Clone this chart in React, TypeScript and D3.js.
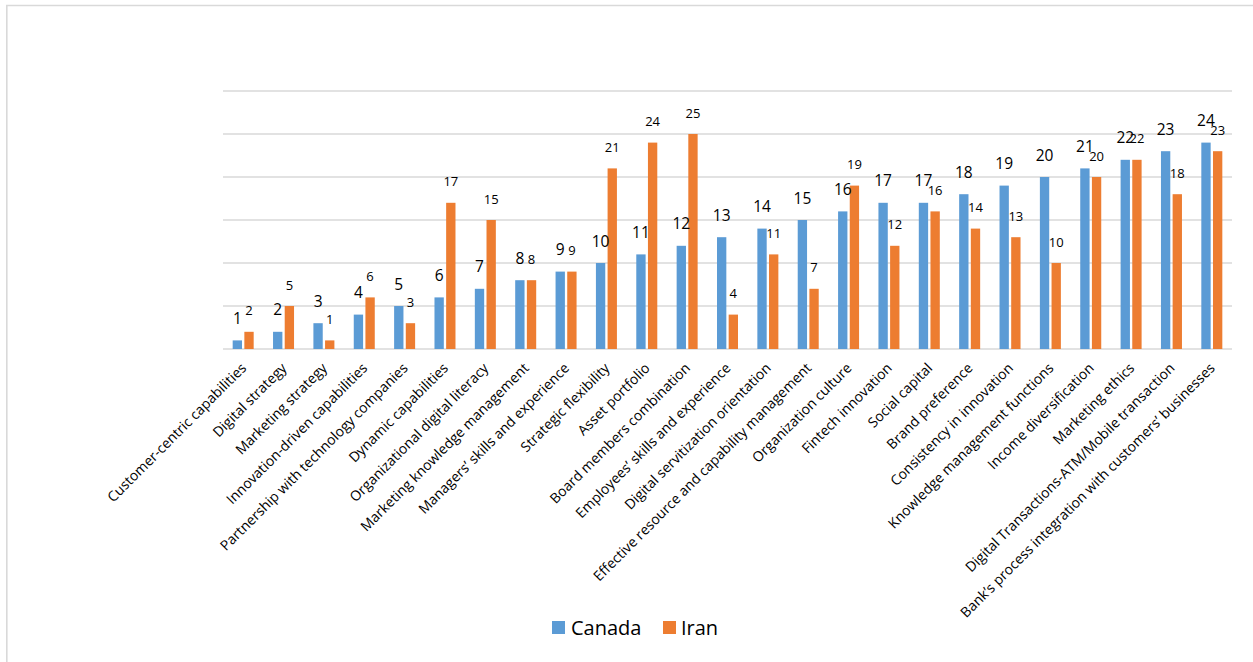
import React from "react";
import * as d3 from "d3";

// Ranking of digital-transformation factors in two countries
const categories: string[] = [
  "Customer-centric capabilities",
  "Digital strategy",
  "Marketing strategy",
  "Innovation-driven capabilities",
  "Partnership with technology companies",
  "Dynamic capabilities",
  "Organizational digital literacy",
  "Marketing knowledge management",
  "Managers’ skills and experience",
  "Strategic flexibility",
  "Asset portfolio",
  "Board members combination",
  "Employees’ skills and experience",
  "Digital servitization orientation",
  "Effective resource and capability management",
  "Organization culture",
  "Fintech innovation",
  "Social capital",
  "Brand preference",
  "Consistency in innovation",
  "Knowledge management functions",
  "Income diversification",
  "Marketing ethics",
  "Digital Transactions-ATM/Mobile transaction",
  "Bank’s process integration with customers’ businesses",
];

const canadaValues: number[] = [
  1, 2, 3, 4, 5, 6, 7, 8, 9, 10, 11, 12, 13, 14, 15, 16, 17, 17, 18, 19, 20, 21, 22, 23, 24,
];

const iranValues: number[] = [
  2, 5, 1, 6, 3, 17, 15, 8, 9, 21, 24, 25, 4, 11, 7, 19, 12, 16, 14, 13, 10, 20, 22, 18, 23,
];

const seriesNames: string[] = ["Canada", "Iran"];
const gridTicks: number[] = [0, 5, 10, 15, 20, 25, 30];

const W = 1253;
const H = 662;
const FONT = "'Open Sans', 'Liberation Sans', sans-serif";
const COLORS: Record<string, string> = { Canada: "#5B9BD5", Iran: "#ED7D31" };

export default function App() {
  const plotLeft = 223;
  const plotRight = 1232;
  const plotTop = 91;
  const plotBottom = 349;

  const x0 = d3.scaleBand<string>().domain(categories).range([plotLeft, plotRight]).padding(0);
  const bw = x0.bandwidth();
  const x1 = d3
    .scaleBand<string>()
    .domain(seriesNames)
    .range([bw / 2 - 10.5, bw / 2 + 10.5])
    .paddingInner(0.2);
  const y = d3.scaleLinear().domain([0, 30]).range([plotBottom, plotTop]);

  const series = [
    { name: "Canada", values: canadaValues, labelSize: 15.5, labelGap: 22 },
    { name: "Iran", values: iranValues, labelSize: 13, labelGap: 21 },
  ];

  return (
    <svg
      width={W}
      height={H}
      viewBox={`0 0 ${W} ${H}`}
      style={{ position: "absolute", left: 0, top: 0, background: "#fff" }}
      fontFamily={FONT}
    >
      <rect x={0} y={0} width={W} height={H} fill="#fff" />
      {/* outer frame (top and left edges) */}
      <line x1={6} x2={W} y1={5.5} y2={5.5} stroke="#d9d9d9" strokeWidth={1.5} />
      <line x1={6.8} x2={6.8} y1={5} y2={H} stroke="#d9d9d9" strokeWidth={1.6} />

      {/* horizontal gridlines */}
      {gridTicks.map((t) => (
        <line
          key={t}
          x1={plotLeft}
          x2={plotRight}
          y1={y(t)}
          y2={y(t)}
          stroke="#d9d9d9"
          strokeWidth={1.3}
        />
      ))}

      {/* bars */}
      {series.map((s) =>
        categories.map((c, i) => (
          <rect
            key={s.name + i}
            x={(x0(c) ?? 0) + (x1(s.name) ?? 0)}
            y={y(s.values[i])}
            width={x1.bandwidth()}
            height={y(0) - y(s.values[i])}
            fill={COLORS[s.name]}
          />
        ))
      )}

      {/* value labels */}
      {series.map((s) =>
        categories.map((c, i) => (
          <text
            key={"l" + s.name + i}
            x={(x0(c) ?? 0) + (x1(s.name) ?? 0) + x1.bandwidth() / 2}
            y={y(s.values[i]) - s.labelGap}
            dy="0.36em"
            textAnchor="middle"
            fontSize={s.labelSize}
            fill="#000"
          >
            {s.values[i]}
          </text>
        ))
      )}

      {/* category labels */}
      {categories.map((c) => {
        const cx = (x0(c) ?? 0) + bw / 2 + 4;
        const cy = plotBottom + 20;
        return (
          <text
            key={"c" + c}
            transform={`translate(${cx},${cy}) rotate(-45)`}
            textAnchor="end"
            fontSize={14}
            fill="#000"
          >
            {c}
          </text>
        );
      })}

      {/* legend */}
      <g>
        <rect x={552} y={621} width={13} height={13} fill={COLORS.Canada} />
        <text x={571} y={635} fontSize={20} fill="#000">
          Canada
        </text>
        <rect x={663} y={621} width={13} height={13} fill={COLORS.Iran} />
        <text x={681} y={635} fontSize={20} fill="#000">
          Iran
        </text>
      </g>
    </svg>
  );
}
